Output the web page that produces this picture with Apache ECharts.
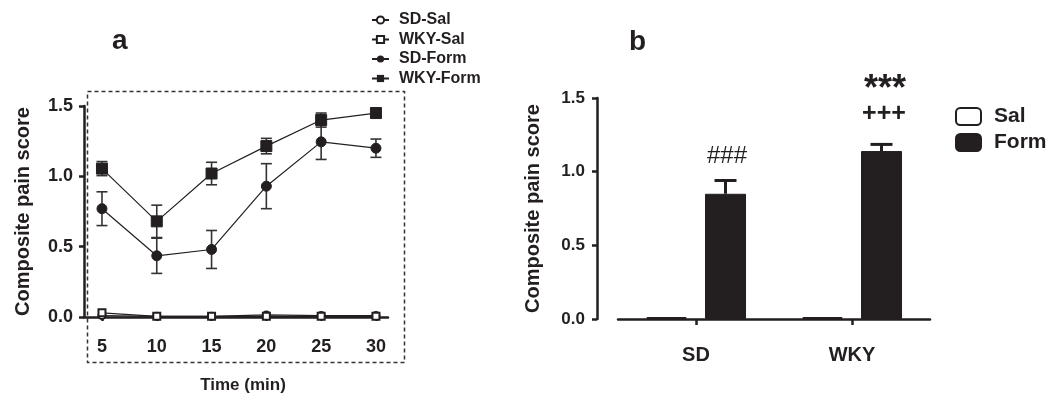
<!DOCTYPE html>
<html>
<head>
<meta charset="utf-8">
<script src="https://cdn.jsdelivr.net/npm/echarts@6/dist/echarts.min.js"></script>
<style>html,body{margin:0;padding:0;background:#fff}#c{width:1046px;height:393px}</style>
</head>
<body>
<div id="c"></div>
<script>
// ---- Panel a data ----
const times = [5, 10, 15, 20, 25, 30];
const timeTicks = [5, 10, 15, 20, 25, 30];
const sdSal = [0.01, 0.005, 0.005, 0.015, 0.01, 0.01];
const wkySal = [0.03, 0.005, 0.005, 0.005, 0.005, 0.005];
const sdForm = [0.77, 0.435, 0.48, 0.93, 1.245, 1.20];
const sdFormErr = [0.12, 0.125, 0.135, 0.16, 0.125, 0.065];
const wkyForm = [1.055, 0.68, 1.02, 1.215, 1.40, 1.45];
const wkyFormErr = [0.05, 0.115, 0.08, 0.055, 0.05, 0.03];

// ---- Panel b data ----
const groups = ['SD', 'WKY'];
const salMean = [0.01, 0.01];
const formMean = [0.85, 1.14];
const formErr = [0.09, 0.045];

const FONT = "'Liberation Sans', Arial, sans-serif";
const INK = '#231f20';

const chart = echarts.init(document.getElementById('c'), null, {renderer: 'canvas'});

function errA(mean, err) {
  return times.map((t, i) => [t, mean[i] - err[i], mean[i] + err[i]]);
}
function renderErrA(params, api) {
  const lo = api.coord([api.value(0), api.value(1)]);
  const hi = api.coord([api.value(0), api.value(2)]);
  const w = 5.5;
  const st = {stroke: '#333', lineWidth: 1.6};
  return {type: 'group', children: [
    {type: 'line', shape: {x1: lo[0], y1: lo[1], x2: hi[0], y2: hi[1]}, style: st},
    {type: 'line', shape: {x1: lo[0] - w, y1: lo[1], x2: lo[0] + w, y2: lo[1]}, style: st},
    {type: 'line', shape: {x1: hi[0] - w, y1: hi[1], x2: hi[0] + w, y2: hi[1]}, style: st}
  ]};
}
function renderErrB(params, api) {
  const base = api.coord([api.value(0), api.value(1)]);
  const top = api.coord([api.value(0), api.value(2)]);
  const off = 29.5;
  const x = base[0] + off;
  const w = 11;
  const st = {stroke: INK, lineWidth: 3};
  return {type: 'group', children: [
    {type: 'line', shape: {x1: x, y1: base[1], x2: x, y2: top[1]}, style: st},
    {type: 'line', shape: {x1: x - w, y1: top[1], x2: x + w, y2: top[1]}, style: st}
  ]};
}

const lineCommon = {
  type: 'line', xAxisIndex: 0, yAxisIndex: 0,
  lineStyle: {color: INK, width: 1.2},
  itemStyle: {color: INK, borderColor: INK},
  emphasis: {disabled: true}, animation: false, z: 3
};

const option = {
  animation: false,
  textStyle: {fontFamily: FONT},
  legend: [
    {
      orient: 'vertical', left: 371, top: 12, padding: 0, itemGap: 3.5,
      itemWidth: 17, itemHeight: 9,
      data: ['SD-Sal', 'WKY-Sal', 'SD-Form', 'WKY-Form'],
      textStyle: {fontFamily: FONT, fontWeight: 'bold', fontSize: 16, lineHeight: 16, color: INK, padding: [0, 0, 0, 5]},
      selectedMode: false
    },
    {
      orient: 'vertical', left: 955, top: 106, padding: 0, itemGap: 5,
      itemWidth: 25, itemHeight: 17,
      data: [{name: 'Sal', icon: 'roundRect'}, {name: 'Form', icon: 'roundRect'}],
      textStyle: {fontFamily: FONT, fontWeight: 'bold', fontSize: 21, lineHeight: 17, color: INK, padding: [0, 0, 0, 8]},
      selectedMode: false
    }
  ],
  grid: [
    {left: 84, right: 658, top: 106, bottom: 76, containLabel: false},
    {left: 618, right: 116, top: 98, bottom: 74, containLabel: false}
  ],
  xAxis: [
    {
      type: 'value', gridIndex: 0, min: 3.36, max: 31.1,
      axisLine: {show: true, onZero: true, lineStyle: {color: INK, width: 2.5}},
      axisTick: {show: true, customValues: timeTicks, length: 4, lineStyle: {color: INK, width: 2.5}},
      splitLine: {show: false},
      axisLabel: {customValues: timeTicks, margin: 21, fontFamily: FONT, fontWeight: 'bold', fontSize: 18, color: INK}
    },
    {
      type: 'category', gridIndex: 1, data: groups, boundaryGap: true,
      axisLine: {show: true, lineStyle: {color: INK, width: 2.5}},
      axisTick: {show: true, alignWithLabel: true, length: 6, lineStyle: {color: INK, width: 2.5}},
      axisLabel: {margin: 26, fontFamily: FONT, fontWeight: 'bold', fontSize: 20, color: INK},
      splitLine: {show: false}
    }
  ],
  yAxis: [
    {
      type: 'value', gridIndex: 0, min: 0, max: 1.5, interval: 0.5,
      axisLine: {show: true, lineStyle: {color: INK, width: 2.5}},
      axisTick: {show: true, length: 5, lineStyle: {color: INK, width: 2.5}},
      splitLine: {show: false},
      axisLabel: {margin: 11, fontFamily: FONT, fontWeight: 'bold', fontSize: 18, color: INK,
        formatter: v => v.toFixed(1)},
      name: 'Composite pain score', nameLocation: 'middle', nameGap: 51,
      nameTextStyle: {fontFamily: FONT, fontWeight: 'bold', fontSize: 20, color: INK}
    },
    {
      type: 'value', gridIndex: 1, min: 0, max: 1.5, interval: 0.5, offset: 21,
      axisLine: {show: true, lineStyle: {color: INK, width: 2.5}},
      axisTick: {show: true, length: 5, lineStyle: {color: INK, width: 2.5}},
      splitLine: {show: false},
      axisLabel: {margin: 12, fontFamily: FONT, fontWeight: 'bold', fontSize: 17, color: INK,
        formatter: v => v.toFixed(1)},
      name: 'Composite pain score', nameLocation: 'middle', nameGap: 54,
      nameTextStyle: {fontFamily: FONT, fontWeight: 'bold', fontSize: 20, color: INK}
    }
  ],
  series: [
    Object.assign({}, lineCommon, {
      name: 'SD-Sal', data: times.map((t, i) => [t, sdSal[i]]),
      symbol: 'circle', symbolSize: 7,
      itemStyle: {color: '#fff', borderColor: INK, borderWidth: 2}
    }),
    Object.assign({}, lineCommon, {
      name: 'WKY-Sal', data: times.map((t, i) => [t, wkySal[i]]),
      symbol: 'rect', symbolSize: 7,
      itemStyle: {color: '#fff', borderColor: INK, borderWidth: 2}
    }),
    {
      type: 'custom', xAxisIndex: 0, yAxisIndex: 0, renderItem: renderErrA,
      data: errA(sdForm, sdFormErr), encode: {x: 0, y: [1, 2]}, z: 2, silent: true
    },
    {
      type: 'custom', xAxisIndex: 0, yAxisIndex: 0, renderItem: renderErrA,
      data: errA(wkyForm, wkyFormErr), encode: {x: 0, y: [1, 2]}, z: 2, silent: true
    },
    Object.assign({}, lineCommon, {
      name: 'SD-Form', data: times.map((t, i) => [t, sdForm[i]]),
      symbol: 'circle', symbolSize: 10
    }),
    Object.assign({}, lineCommon, {
      name: 'WKY-Form', data: times.map((t, i) => [t, wkyForm[i]]),
      symbol: 'rect', symbolSize: 11
    }),
    {
      name: 'Sal', type: 'bar', xAxisIndex: 1, yAxisIndex: 1, data: salMean,
      barWidth: 41, barGap: '44%',
      itemStyle: {color: '#fff', borderColor: INK, borderWidth: 2.5, borderRadius: 1.5}
    },
    {
      name: 'Form', type: 'bar', xAxisIndex: 1, yAxisIndex: 1, data: formMean,
      barWidth: 41, barGap: '44%',
      itemStyle: {color: INK, borderColor: INK, borderWidth: 1}
    },
    {
      type: 'custom', xAxisIndex: 1, yAxisIndex: 1, renderItem: renderErrB,
      data: groups.map((g, i) => [i, formMean[i], formMean[i] + formErr[i]]),
      encode: {x: 0, y: [1, 2]}, z: 1, silent: true
    }
  ],
  graphic: [
    {type: 'rect', left: 85, top: 89, silent: true,
      shape: {width: 317, height: 271},
      style: {fill: 'none', stroke: '#333', lineWidth: 1.5, lineDash: [4, 3]}},
    {type: 'text', left: 112, top: 27, style: {text: 'a', font: 'bold 28px ' + FONT, fill: INK}},
    {type: 'text', left: 629, top: 28, style: {text: 'b', font: 'bold 28px ' + FONT, fill: INK}},
    {type: 'text', x: 243, y: 385, style: {text: 'Time (min)', font: 'bold 17px ' + FONT, fill: INK, align: 'center', verticalAlign: 'middle'}},
    {type: 'text', x: 727, y: 156, style: {text: '###', font: '24px ' + FONT, fill: INK, align: 'center', verticalAlign: 'middle'}},
    {type: 'text', x: 884, y: 114, style: {text: '+++', font: 'bold 25px ' + FONT, fill: INK, align: 'center', verticalAlign: 'middle'}},
    {type: 'text', x: 885, y: 90, style: {text: '***', font: 'bold 36px ' + FONT, fill: INK, align: 'center', verticalAlign: 'middle'}}
  ]
};
chart.setOption(option);
</script>
</body>
</html>
